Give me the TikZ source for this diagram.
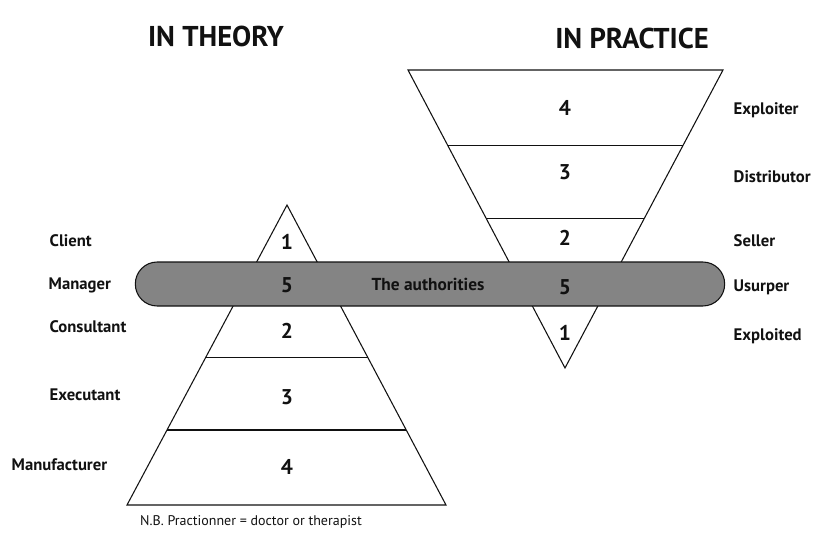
\documentclass[tikz,border=0pt]{standalone}
\usepackage{fontspec}
\setmainfont{PT Sans}
\usepackage{xcolor}
\usetikzlibrary{positioning, calc}
\definecolor{bandgray}{HTML}{848484}
\definecolor{inkblack}{HTML}{111111}

\begin{document}
\begin{tikzpicture}[x=0.75pt, y=-0.75pt,
    title/.style={font=\fontsize{21.5}{24}\selectfont\bfseries, text=inkblack},
    role/.style={font=\fontsize{12.5}{14}\selectfont\bfseries, anchor=west, text=inkblack},
    rank/.style={font=\fontsize{16}{18}\selectfont\bfseries, text=inkblack},
    edge/.style={draw=inkblack, line width=0.8pt, line join=miter}]
  \useasboundingbox (0,0) rectangle (825,536);

  % titles
  \node[title] (theory) at (216,36) {IN THEORY};
  \node[title] (practice) at (632,38) {IN PRACTICE};

  % left pyramid
  \coordinate (lapex) at (287,205);
  \coordinate (lbl) at (127,505);
  \coordinate (lbr) at (446,505);
  \draw[edge] (lapex) -- (lbl) -- (lbr) -- cycle;
  \draw[edge] ($(lapex)!0.507!(lbl)$) -- ($(lapex)!0.507!(lbr)$);
  \draw[edge] ($(lapex)!0.75!(lbl)$) -- ($(lapex)!0.75!(lbr)$);

  % right funnel
  \coordinate (rtl) at (408,70);
  \coordinate (rtr) at (723,70);
  \coordinate (rapex) at (565,368);
  \draw[edge] (rtl) -- (rtr) -- (rapex) -- cycle;
  \draw[edge] ($(rtl)!0.252!(rapex)$) -- ($(rtr)!0.252!(rapex)$);
  \draw[edge] ($(rtl)!0.497!(rapex)$) -- ($(rtr)!0.497!(rapex)$);

  % band across both
  \node[draw=inkblack, line width=0.8pt, fill=bandgray, rounded corners=16.4pt,
        minimum width=442pt, minimum height=33pt, inner sep=0pt] (band) at (430,284) {};
  \node[font=\fontsize{13}{15}\selectfont\bfseries, text=inkblack] (auth) at (428,284) {The authorities};

  % left ranks
  \node[rank] (l1) at (287,242) {1};
  \node[rank] (l5) at (287,285) {5};
  \node[rank] (l2) at (287,331) {2};
  \node[rank] (l3) at (287,397) {3};
  \node[rank] (l4) at (287,467) {4};

  % right ranks
  \node[rank] (r4) at (565,108) {4};
  \node[rank] (r3) at (565,172) {3};
  \node[rank] (r2) at (565,238) {2};
  \node[rank] (r5) at (565,287) {5};
  \node[rank] (r1) at (565,333) {1};

  % left roles
  \node[role] (client) at (45,241) {Client};
  \node[role] (manager) at (44,285) {Manager};
  \node[role] (consultant) at (45,327) {Consultant};
  \node[role] (executant) at (45,395) {Executant};
  \node[role] (manufacturer) at (7,465) {Manufacturer};

  % right roles
  \node[role] (exploiter) at (729,110) {Exploiter};
  \node[role] (distributor) at (729,177) {Distributor};
  \node[role] (seller) at (729,241) {Seller};
  \node[role] (usurper) at (729,287) {Usurper};
  \node[role] (exploited) at (729,336) {Exploited};

  \node[font=\fontsize{10.5}{12}\selectfont, text=inkblack] (note) at (251,522) {N.B. Practionner = doctor or therapist};
\end{tikzpicture}
\end{document}
